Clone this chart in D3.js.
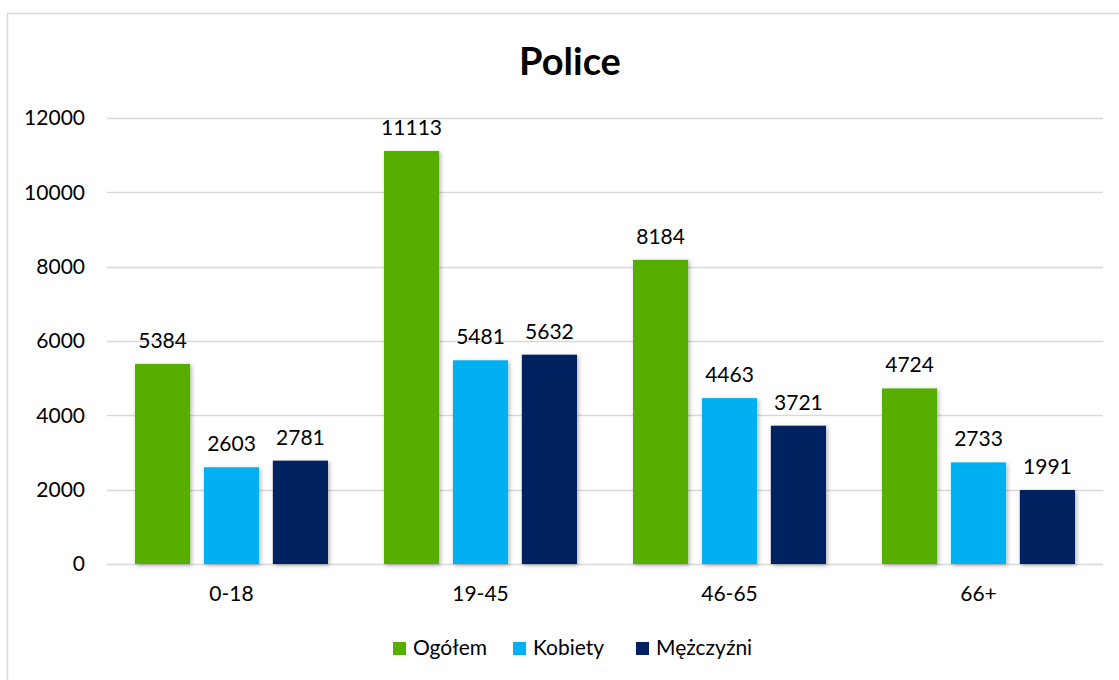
<!DOCTYPE html>
<html>
<head>
<meta charset="utf-8">
<script src="https://cdn.jsdelivr.net/npm/d3@7"></script>
<style>
  body { margin: 0; background: #fff; }
  text { font-family: Lato, "Open Sans", sans-serif; fill: #000; }
</style>
</head>
<body>
<svg width="1119" height="680"></svg>
<script>
var categories = ["0-18", "19-45", "46-65", "66+"];
var seriesNames = ["Ogółem", "Kobiety", "Mężczyźni"];
var ogolem = [5384, 11113, 8184, 4724];
var kobiety = [2603, 5481, 4463, 2733];
var mezczyzni = [2781, 5632, 3721, 1991];
var yTicks = [0, 2000, 4000, 6000, 8000, 10000, 12000];
var colors = ["#56AE00", "#00B0F0", "#002060"];

var svg = d3.select("svg"),
    width = +svg.attr("width"),
    height = +svg.attr("height");

var series = [ogolem, kobiety, mezczyzni];

// chart frame
svg.append("rect")
    .attr("x", 7.5).attr("y", 13.5)
    .attr("width", 1130).attr("height", 700)
    .attr("fill", "#fff")
    .attr("stroke", "#d9d9d9")
    .attr("stroke-width", 1.5);

var defs = svg.append("defs");
defs.append("filter")
    .attr("id", "shadow")
    .attr("x", "-20%").attr("y", "-5%")
    .attr("width", "140%").attr("height", "110%")
  .append("feDropShadow")
    .attr("dx", 1.5).attr("dy", 1.5)
    .attr("stdDeviation", 2)
    .attr("flood-color", "#000")
    .attr("flood-opacity", 0.3);

var x = d3.scaleBand()
    .domain(categories)
    .range([107, 1103]);

var x1 = d3.scaleBand()
    .domain(d3.range(series.length))
    .range([28, x.bandwidth() - 28])
    .paddingInner(0.2)
    .paddingOuter(0);

var y = d3.scaleLinear()
    .domain([0, 12000])
    .range([564, 118]);

// gridlines
svg.append("g")
    .attr("class", "grid")
  .selectAll("line")
  .data(yTicks)
  .enter().append("line")
    .attr("x1", 107).attr("x2", 1103)
    .attr("y1", function(d) { return Math.round(y(d)) + 0.5; })
    .attr("y2", function(d) { return Math.round(y(d)) + 0.5; })
    .attr("stroke", "#d9d9d9")
    .attr("stroke-width", 1.5);

// y axis labels
var yAxis = svg.append("g")
    .attr("transform", "translate(107,0)")
    .call(d3.axisLeft(y).tickValues(yTicks).tickSize(0).tickPadding(22).tickFormat(d3.format("d")));
yAxis.select(".domain").remove();
yAxis.selectAll("text")
    .style("font-size", "21px")
    .style("font-family", "Lato, sans-serif")
    .attr("fill", "#000");

// bars
var groups = svg.append("g")
  .selectAll("g")
  .data(categories)
  .enter().append("g")
    .attr("transform", function(d) { return "translate(" + x(d) + ",0)"; });

groups.selectAll("rect")
  .data(function(d, i) { return series.map(function(s, j) { return {s: j, v: s[i]}; }); })
  .enter().append("rect")
    .attr("x", function(d) { return x1(d.s); })
    .attr("y", function(d) { return y(d.v); })
    .attr("width", x1.bandwidth())
    .attr("height", function(d) { return y(0) - y(d.v); })
    .attr("fill", function(d) { return colors[d.s]; })
    .attr("filter", "url(#shadow)");

groups.selectAll("text.value")
  .data(function(d, i) { return series.map(function(s, j) { return {s: j, v: s[i]}; }); })
  .enter().append("text")
    .attr("class", "value")
    .attr("x", function(d) { return x1(d.s) + x1.bandwidth() / 2; })
    .attr("y", function(d) { return y(d.v) - 16; })
    .attr("text-anchor", "middle")
    .style("font-size", "21px")
    .text(function(d) { return d.v; });

// x axis labels
var xAxis = svg.append("g")
    .attr("transform", "translate(0,564)")
    .call(d3.axisBottom(x).tickSize(0).tickPadding(22));
xAxis.select(".domain").remove();
xAxis.selectAll("text")
    .style("font-size", "21px")
    .style("font-family", "Lato, sans-serif")
    .attr("fill", "#000");

// title
svg.append("text")
    .attr("x", 570)
    .attr("y", 75)
    .attr("text-anchor", "middle")
    .style("font-size", "38px")
    .style("font-weight", "bold")
    .text("Police");

// legend
var legendX = [393, 513, 636];
var legend = svg.append("g")
  .selectAll("g")
  .data(seriesNames)
  .enter().append("g")
    .attr("transform", function(d, i) { return "translate(" + legendX[i] + ",642)"; });

legend.append("rect")
    .attr("width", 13)
    .attr("height", 13)
    .attr("fill", function(d, i) { return colors[i]; });

legend.append("text")
    .attr("x", 20)
    .attr("y", 13)
    .style("font-size", "21px")
    .text(function(d) { return d; });
</script>
</body>
</html>
